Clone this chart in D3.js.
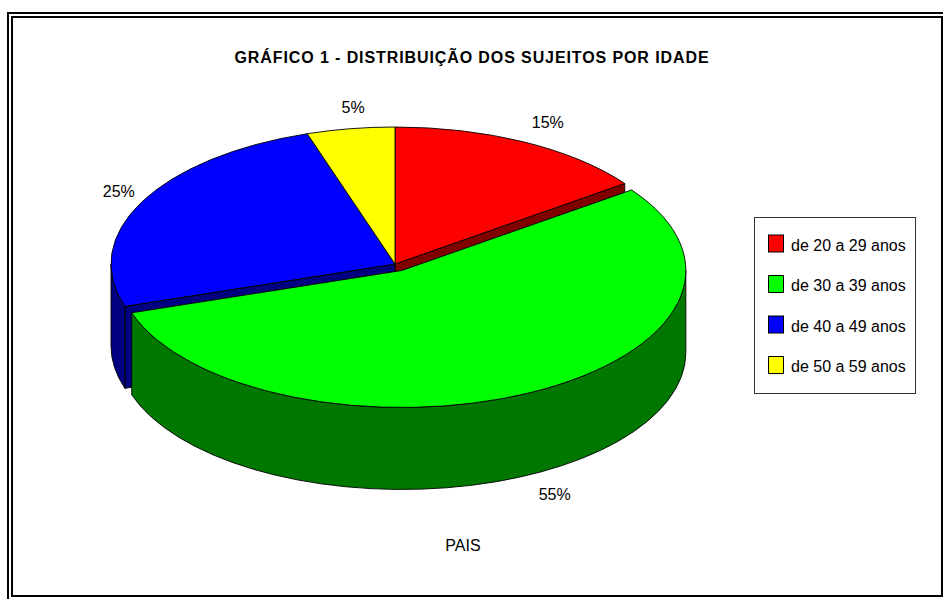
<!DOCTYPE html>
<html>
<head>
<meta charset="utf-8">
<script src="https://cdn.jsdelivr.net/npm/d3@7"></script>
<style>
  html, body { margin: 0; padding: 0; background: #fff; }
  svg { display: block; }
  text { font-family: Arial, "Liberation Sans", sans-serif; fill: #000; }
</style>
</head>
<body>
<svg id="chart" width="943" height="599"></svg>
<script>
// ---- data ----
const title = "GRÁFICO 1 - DISTRIBUIÇÃO DOS SUJEITOS POR IDADE";
const categories = ["de 20 a 29 anos", "de 30 a 39 anos", "de 40 a 49 anos", "de 50 a 59 anos"];
const values = [15, 55, 25, 5];
const valueLabels = ["15%", "55%", "25%", "5%"];
const exploded = [false, true, false, false];
const seriesName = "PAIS";

// ---- styles ----
const topColors  = ["#FF0000", "#00FF00", "#0000FF", "#FFFF00"];
const sideColors = ["#800000", "#007800", "#000080", "#808000"];

const W = 943, H = 599;
const svg = d3.select("#chart");

// frame (double border)
svg.append("rect").attr("x", 8).attr("y", 13).attr("width", 938).attr("height", 587)
  .attr("fill", "none").attr("stroke", "#000").attr("stroke-width", 2);
svg.append("rect").attr("x", 12).attr("y", 17).attr("width", 930).attr("height", 579)
  .attr("fill", "none").attr("stroke", "#000").attr("stroke-width", 2);

// title
svg.append("text").attr("x", 472).attr("y", 63).attr("text-anchor", "middle")
  .style("font-size", "16px").style("font-weight", "bold").style("letter-spacing", "0.9px").text(title);

// ---- 3D pie geometry ----
const cx = 395, cy = 264, rx = 284, ry = 137, depth = 82, explodeK = 0.053;
const labelRx = 319, labelRy = 159, labelDx = 8;

const pie = d3.pie().sort(null).value(d => d.value);
const arcs = pie(categories.map((c, i) => ({ cat: c, value: values[i], i })));

function pt(a, ox, oy, dz) {
  return [ox + rx * Math.sin(a), oy - ry * Math.cos(a) + (dz || 0)];
}
function offset(d) {
  if (!exploded[d.data.i]) return [cx, cy];
  const m = (d.startAngle + d.endAngle) / 2;
  return [cx + explodeK * rx * Math.sin(m), cy - explodeK * ry * Math.cos(m)];
}
function topPath(d) {
  const [ox, oy] = offset(d);
  const p0 = pt(d.startAngle, ox, oy), p1 = pt(d.endAngle, ox, oy);
  const large = (d.endAngle - d.startAngle) > Math.PI ? 1 : 0;
  return `M${ox},${oy}L${p0[0]},${p0[1]}A${rx},${ry} 0 ${large} 1 ${p1[0]},${p1[1]}Z`;
}
function outerSidePath(d) {
  const [ox, oy] = offset(d);
  const lo = Math.max(d.startAngle, Math.PI / 2), hi = Math.min(d.endAngle, 3 * Math.PI / 2);
  if (lo >= hi) return null;
  const a = pt(lo, ox, oy), b = pt(hi, ox, oy), bb = pt(hi, ox, oy, depth), ab = pt(lo, ox, oy, depth);
  return `M${a[0]},${a[1]}A${rx},${ry} 0 0 1 ${b[0]},${b[1]}L${bb[0]},${bb[1]}A${rx},${ry} 0 0 0 ${ab[0]},${ab[1]}Z`;
}
function facePath(d, ang) {
  const [ox, oy] = offset(d);
  const p = pt(ang, ox, oy), pb = pt(ang, ox, oy, depth);
  return `M${ox},${oy}L${p[0]},${p[1]}L${pb[0]},${pb[1]}L${ox},${oy + depth}Z`;
}
const n = arcs.length;
function sidesOf(d) {
  const i = d.data.i, out = [];
  const prevEx = exploded[(i - 1 + n) % n], nextEx = exploded[(i + 1) % n];
  if (Math.sin(d.startAngle) < -1e-6 && (exploded[i] || prevEx)) out.push(facePath(d, d.startAngle));
  if (Math.sin(d.endAngle) > 1e-6 && (exploded[i] || nextEx)) out.push(facePath(d, d.endAngle));
  const s = outerSidePath(d);
  if (s) out.push(s);
  return out;
}

const g = svg.append("g");
function drawGroup(list) {
  list.forEach(d => {
    sidesOf(d).forEach(p => g.append("path").attr("d", p)
      .attr("fill", sideColors[d.data.i]).attr("stroke", "#000").attr("stroke-width", 0.9)
      .attr("stroke-linejoin", "round"));
  });
  list.forEach(d => {
    g.append("path").attr("d", topPath(d))
      .attr("fill", topColors[d.data.i]).attr("stroke", "#000").attr("stroke-width", 0.9)
      .attr("stroke-linejoin", "round");
  });
}
drawGroup(arcs.filter(d => !exploded[d.data.i]));
drawGroup(arcs.filter(d => exploded[d.data.i]));

// data labels
arcs.forEach(d => {
  const [ox, oy] = offset(d);
  const m = (d.startAngle + d.endAngle) / 2;
  const front = -Math.cos(m) > 0 ? depth : 0;
  const x = ox + labelDx + labelRx * Math.sin(m);
  const y = oy - labelRy * Math.cos(m) + front;
  svg.append("text").attr("x", x).attr("y", y).attr("dy", "0.35em")
    .attr("text-anchor", "middle").style("font-size", "16px").text(valueLabels[d.data.i]);
});

// series name
svg.append("text").attr("x", 463).attr("y", 551).attr("text-anchor", "middle")
  .style("font-size", "16px").text(seriesName);

// legend
const lg = svg.append("g");
lg.append("rect").attr("x", 754.5).attr("y", 217.5).attr("width", 161).attr("height", 176)
  .attr("fill", "#fff").attr("stroke", "#333").attr("stroke-width", 1);
const ly = d3.scalePoint().domain(categories).range([243.5, 365]);
categories.forEach((c, i) => {
  lg.append("rect").attr("x", 768.5).attr("y", ly(c) - 8.5).attr("width", 15).attr("height", 17)
    .attr("fill", topColors[i]).attr("stroke", "#000").attr("stroke-width", 1);
  lg.append("text").attr("x", 791).attr("y", ly(c) + 1.5).attr("dy", "0.35em")
    .style("font-size", "16px").text(c);
});
</script>
</body>
</html>
